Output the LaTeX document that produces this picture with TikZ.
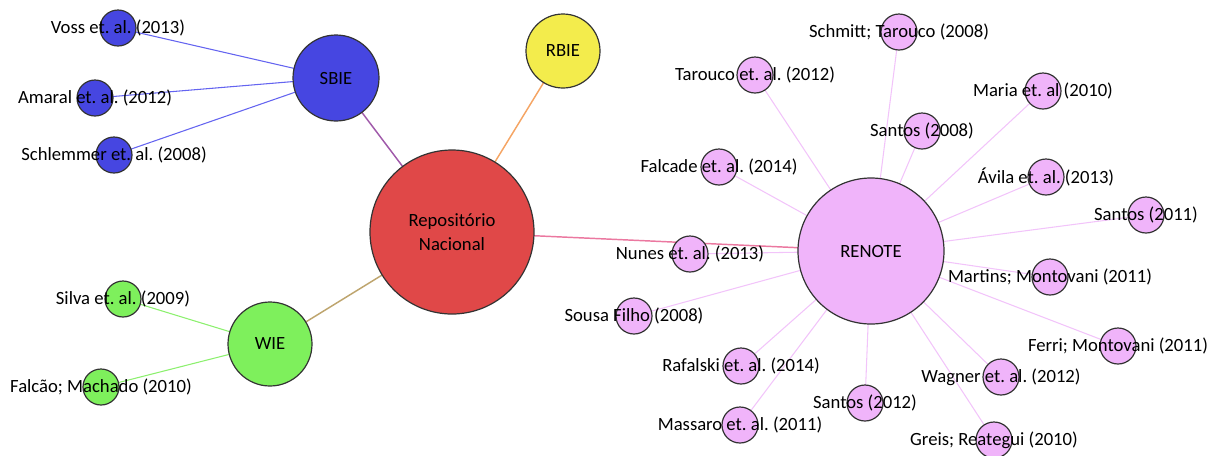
\documentclass[tikz,border=0pt]{standalone}
\usepackage{fontspec}
\setmainfont{Carlito}
\usetikzlibrary{backgrounds}
\frenchspacing
\definecolor{blueN}{RGB}{70,70,225}
\definecolor{redN}{RGB}{224,72,72}
\definecolor{yellowN}{RGB}{243,236,76}
\definecolor{greenN}{RGB}{126,240,92}
\definecolor{pinkN}{RGB}{240,180,250}
\definecolor{blueE}{RGB}{100,100,240}
\definecolor{purpleE}{RGB}{160,90,170}
\definecolor{orangeE}{RGB}{245,165,100}
\definecolor{tanE}{RGB}{190,165,110}
\definecolor{greenE}{RGB}{140,240,110}
\definecolor{pinkE}{RGB}{235,120,160}
\definecolor{lavE}{RGB}{242,196,250}
\begin{document}
\begin{tikzpicture}[x=0.75pt,y=-0.75pt,
  circ/.style={circle,draw=black!80,line width=0.9pt,inner sep=0pt},
  sat/.style={circ,minimum size=27pt},
  lbl/.style={font=\fontsize{14}{18}\selectfont,text=black,inner sep=0pt,align=center},
  thinE/.style={line width=0.8pt},
  hubE/.style={line width=1.1pt}]
\useasboundingbox (0,0) rectangle (1211,455);
% hubs
\node[circ,fill=redN,minimum size=123pt] (rep) at (452,232) {};
\node[circ,fill=blueN,minimum size=64.5pt] (sbie) at (336,78) {};
\node[circ,fill=yellowN,minimum size=55.5pt] (rbie) at (563,51) {};
\node[circ,fill=greenN,minimum size=63pt] (wie) at (270,344) {};
\node[circ,fill=pinkN,minimum size=109.5pt] (renote) at (871,251) {};
% SBIE satellites
\node[sat,fill=blueN] (voss) at (118,28) {};
\node[sat,fill=blueN] (amaral) at (95,98) {};
\node[sat,fill=blueN] (schlemmer) at (114,155) {};
% WIE satellites
\node[sat,fill=greenN] (silva) at (123,299) {};
\node[sat,fill=greenN] (falcao) at (101,387) {};
% RENOTE satellites
\node[sat,fill=pinkN] (schmitt) at (899,32) {};
\node[sat,fill=pinkN] (tarouco) at (755,75) {};
\node[sat,fill=pinkN] (maria) at (1043,91) {};
\node[sat,fill=pinkN] (santosA) at (922,131) {};
\node[sat,fill=pinkN] (falcade) at (719,167) {};
\node[sat,fill=pinkN] (avila) at (1046,177) {};
\node[sat,fill=pinkN] (santosB) at (1146,215) {};
\node[sat,fill=pinkN] (nunes) at (690,254) {};
\node[sat,fill=pinkN] (martins) at (1050,277) {};
\node[sat,fill=pinkN] (sousa) at (634,316) {};
\node[sat,fill=pinkN] (ferri) at (1118,346) {};
\node[sat,fill=pinkN] (rafalski) at (741,366) {};
\node[sat,fill=pinkN] (wagner) at (1001,377) {};
\node[sat,fill=pinkN] (santosC) at (865,403) {};
\node[sat,fill=pinkN] (massaro) at (740,425) {};
\node[sat,fill=pinkN] (greis) at (994,440) {};
% edges (behind the circles)
\begin{scope}[on background layer]
\draw[hubE,purpleE] (sbie.center) -- (rep.center);
\draw[hubE,orangeE] (rbie.center) -- (rep.center);
\draw[hubE,tanE] (wie.center) -- (rep.center);
\draw[hubE,pinkE] (rep.center) -- (renote.center);
\foreach \s in {voss,amaral,schlemmer}
  \draw[thinE,blueE] (sbie.center) -- (\s.center);
\foreach \s in {silva,falcao}
  \draw[thinE,greenE] (wie.center) -- (\s.center);
\foreach \s in {schmitt,tarouco,maria,santosA,falcade,avila,santosB,nunes,martins,sousa,ferri,rafalski,wagner,santosC,massaro,greis}
  \draw[thinE,lavE] (renote.center) -- (\s.center);
\end{scope}
% labels
\node[lbl] at (rep) {Repositório\\Nacional};
\node[lbl] at (sbie) {SBIE};
\node[lbl] at (rbie) {RBIE};
\node[lbl] at (wie) {WIE};
\node[lbl] at (renote) {RENOTE};
\node[lbl] at (voss) {Voss et. al. (2013)};
\node[lbl] at (amaral) {Amaral et. al. (2012)};
\node[lbl] at (schlemmer) {Schlemmer et. al. (2008)};
\node[lbl] at (silva) {Silva et. al. (2009)};
\node[lbl] at (falcao) {Falcão; Machado (2010)};
\node[lbl] at (schmitt) {Schmitt; Tarouco (2008)};
\node[lbl] at (tarouco) {Tarouco et. al. (2012)};
\node[lbl] at (maria) {Maria et. al (2010)};
\node[lbl] at (santosA) {Santos (2008)};
\node[lbl] at (falcade) {Falcade et. al. (2014)};
\node[lbl] at (avila) {Ávila et. al. (2013)};
\node[lbl] at (santosB) {Santos (2011)};
\node[lbl] at (nunes) {Nunes et. al. (2013)};
\node[lbl] at (martins) {Martins; Montovani (2011)};
\node[lbl] at (sousa) {Sousa Filho (2008)};
\node[lbl] at (ferri) {Ferri; Montovani (2011)};
\node[lbl] at (rafalski) {Rafalski et. al. (2014)};
\node[lbl] at (wagner) {Wagner et. al. (2012)};
\node[lbl] at (santosC) {Santos (2012)};
\node[lbl] at (massaro) {Massaro et. al. (2011)};
\node[lbl] at (greis) {Greis; Reategui (2010)};
\end{tikzpicture}
\end{document}
